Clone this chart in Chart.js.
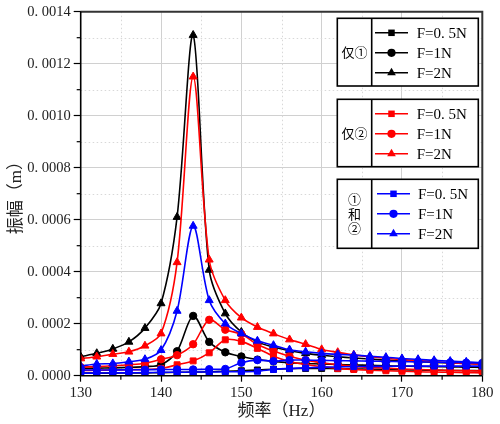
<!DOCTYPE html>
<html><head><meta charset="utf-8">
<script src="https://cdn.jsdelivr.net/npm/chart.js@4.4.1/dist/chart.umd.min.js"></script>
<style>html,body{margin:0;padding:0;background:#fff}#wrap{width:500px;height:424px}</style>
</head><body><div id="wrap"><canvas id="c" width="500" height="424"></canvas></div>
<script>
// Frequencies (Hz)
const freqs = [130,132,134,136,138,140,142,144,146,148,150,152,154,156,158,160,162,164,166,168,170,172,174,176,178,180];
// 仅① (units of 1e-5 m)
const only1_F05 = [1.0,1.0,1.0,1.1,1.1,1.2,1.3,1.4,1.5,1.7,1.9,2.2,2.5,2.7,2.8,2.8,2.7,2.6,2.5,2.4,2.3,2.2,2.1,2.0,2.0,1.9];
const only1_F1  = [2.8,2.9,3.0,3.2,3.5,4.2,9.4,23.0,13.0,9.0,7.4,6.2,5.5,5.0,4.7,4.5,4.3,4.1,4.0,3.8,3.7,3.6,3.5,3.4,3.3,3.2];
const only1_F2  = [7.3,8.6,10.3,13.0,18.3,27.8,61.0,131.0,40.7,23.9,16.8,13.0,11.0,9.6,8.6,7.9,7.3,6.8,6.4,6.0,5.7,5.4,5.1,4.9,4.7,4.5];
// 仅②
const only2_F05 = [2.0,2.1,2.2,2.3,2.4,2.8,4.2,5.7,8.8,13.8,13.2,10.5,7.5,5.5,4.3,3.5,2.8,2.4,2.1,1.9,1.7,1.5,1.4,1.3,1.2,1.1];
const only2_F1  = [3.3,3.5,3.8,4.2,4.8,6.3,7.9,12.1,21.5,17.7,16.0,12.0,9.5,7.5,6.0,5.0,4.2,3.6,3.2,2.9,2.6,2.4,2.2,2.0,1.9,1.8];
const only2_F2  = [6.6,7.3,8.3,9.2,11.5,16.2,43.6,115.0,44.6,29.0,22.3,18.7,16.2,13.9,12.1,10.1,9.0,8.0,7.3,6.7,6.2,5.8,5.4,5.0,4.7,4.4];
// ①和②
const both_F05  = [1.0,1.0,1.1,1.1,1.2,1.3,1.3,1.4,1.4,1.5,1.5,1.7,2.4,2.8,3.0,3.3,3.4,3.5,3.6,3.6,3.7,3.7,3.7,3.7,3.7,3.7];
const both_F1   = [2.2,2.2,2.2,2.3,2.3,2.4,2.4,2.4,2.5,2.6,5.0,6.0,5.6,6.0,6.0,5.9,5.8,5.7,5.6,5.5,5.4,5.3,5.2,5.1,5.0,4.9];
const both_F2   = [3.7,4.5,4.7,5.4,6.3,9.8,24.9,57.6,29.0,20.0,16.2,13.4,11.7,10.0,9.2,8.6,8.2,7.9,7.5,7.1,6.6,6.3,5.9,5.6,5.3,5.0];

const groupLabels = ['仅①','仅②','①和②'];
const forceLabels = ['F=0. 5N','F=1N','F=2N'];
const groupColors = ['#000000','#ff0000','#0000ff'];
const markerStyles = ['rect','circle','triangle'];
const markerRadii = [4.2,3.7,4.6];
const seriesValues = [[only1_F05,only1_F1,only1_F2],[only2_F05,only2_F1,only2_F2],[both_F05,both_F1,both_F2]];
const xTicks = [130,140,150,160,170,180];
const yTicks = [0,0.0002,0.0004,0.0006,0.0008,0.001,0.0012,0.0014];

const FONT = '"Liberation Serif","Noto Sans CJK SC",serif';
const datasets = [];
seriesValues.forEach((grp,g)=>grp.forEach((vals,k)=>{
  datasets.push({
    label: groupLabels[g]+' '+forceLabels[k],
    data: vals.map((v,i)=>({x:freqs[i], y:v*1e-5})),
    borderColor: groupColors[g], backgroundColor: groupColors[g],
    borderWidth: 1.6, pointStyle: markerStyles[k], pointRadius: markerRadii[k],
    pointBorderWidth: 1, tension: 0.3, order: 2-g
  });
}));

function drawMarker(ctx, style, r, x, y){
  ctx.beginPath();
  if(style==='circle'){ctx.arc(x,y,r,0,Math.PI*2);}
  else if(style==='rect'){const s=r*Math.SQRT1_2;ctx.rect(x-s,y-s,2*s,2*s);}
  else {ctx.moveTo(x, y - r); ctx.lineTo(x + r*0.866, y + r*0.5); ctx.lineTo(x - r*0.866, y + r*0.5); ctx.closePath();}
  ctx.fill();
}

const decor = {
  id:'decor',
  beforeDatasetsDraw(chart){
    const {ctx, chartArea:a, scales:{x,y}} = chart;
    ctx.save();
    ctx.strokeStyle='#d8d8d8'; ctx.lineWidth=1; ctx.setLineDash([1.5,2.5]);
    for(let v=135; v<180; v+=10){const px=Math.round(x.getPixelForValue(v))+0.5;ctx.beginPath();ctx.moveTo(px,a.top);ctx.lineTo(px,a.bottom);ctx.stroke();}
    for(let v=0.0001; v<0.0014; v+=0.0002){const py=Math.round(y.getPixelForValue(v))+0.5;ctx.beginPath();ctx.moveTo(a.left,py);ctx.lineTo(a.right,py);ctx.stroke();}
    ctx.setLineDash([]);
    ctx.strokeStyle='#000'; ctx.lineWidth=1.2;
    for(let v=135; v<180; v+=10){const px=x.getPixelForValue(v);ctx.beginPath();ctx.moveTo(px,a.bottom);ctx.lineTo(px,a.bottom+4);ctx.stroke();}
    for(let v=0.0001; v<0.0014; v+=0.0002){const py=y.getPixelForValue(v);ctx.beginPath();ctx.moveTo(a.left,py);ctx.lineTo(a.left-4,py);ctx.stroke();}
    ctx.restore();
  },
  afterDatasetsDraw(chart){
    const {ctx, chartArea:a} = chart;
    ctx.save();
    ctx.strokeStyle='#333'; ctx.lineWidth=2;
    ctx.beginPath(); ctx.moveTo(a.left,a.top); ctx.lineTo(a.right,a.top); ctx.lineTo(a.right,a.bottom); ctx.stroke();
    ctx.strokeStyle='#000'; ctx.lineWidth=1.6;
    ctx.beginPath(); ctx.moveTo(a.left,a.top); ctx.lineTo(a.left,a.bottom); ctx.lineTo(a.right,a.bottom); ctx.stroke();
    // legend boxes
    const boxTops=[18.3,99.3,179.3], boxH=[67.7,67.4,69];
    const bx=337.3, bw=141, dx=371.7;
    for(let g=0; g<3; g++){
      const t=boxTops[g];
      ctx.fillStyle='#fff'; ctx.fillRect(bx,t,bw,boxH[g]);
      ctx.strokeStyle='#000'; ctx.lineWidth=1.6; ctx.strokeRect(bx,t,bw,boxH[g]);
      ctx.beginPath(); ctx.moveTo(dx,t); ctx.lineTo(dx,t+boxH[g]); ctx.stroke();
      ctx.fillStyle='#000'; ctx.textBaseline='middle'; ctx.textAlign='center';
      const cx=(bx+dx)/2, cy=t+boxH[g]/2;
      ctx.font='13px "Noto Sans CJK SC"';
      if(g<2){ ctx.fillText(groupLabels[g], cx, cy); }
      else { const chars=['①','和','②']; chars.forEach((c,i)=>ctx.fillText(c,cx,cy+(i-1)*14.5)); }
      for(let k=0;k<3;k++){
        const ry=t+14.5+k*20;
        const x0 = g===2?377:375, x1 = g===2?410:408;
        ctx.strokeStyle=groupColors[g]; ctx.lineWidth=1.6;
        ctx.beginPath(); ctx.moveTo(x0,ry); ctx.lineTo(x1,ry); ctx.stroke();
        ctx.fillStyle=groupColors[g];
        drawMarker(ctx, markerStyles[k], markerRadii[k]+0.4, (x0+x1)/2, ry);
        ctx.fillStyle='#000'; ctx.textAlign='left'; ctx.font='15px '+FONT;
        ctx.fillText(forceLabels[k], g===2?418:416.7, ry+1);
        ctx.textAlign='center';
      }
    }
    ctx.restore();
  }
};

new Chart(document.getElementById('c'), {
  type:'line',
  data:{datasets},
  options:{
    responsive:false, animation:false, devicePixelRatio:1,
    layout:{padding:{left:0,right:17.7,top:10,bottom:0}},
    plugins:{legend:{display:false}, tooltip:{enabled:false}},
    scales:{
      x:{type:'linear', min:130, max:180,
        afterBuildTicks(s){ s.ticks = xTicks.map(v=>({value:v})); },
        afterFit(s){ s.height = 48.3; },
        ticks:{font:{family:FONT,size:15}, color:'#222', padding:2, maxRotation:0},
        grid:{color:'#d0d0d0', lineWidth:1, tickColor:'#000', tickLength:6, tickWidth:1.2},
        border:{display:false},
        title:{display:true, text:'频率（Hz）', font:{family:FONT,size:17}, color:'#222', padding:{top:0,bottom:2}}
      },
      y:{min:0, max:0.0014,
        afterBuildTicks(s){ s.ticks = yTicks.map(v=>({value:v})); },
        afterFit(s){ s.width = 80.7; },
        ticks:{font:{family:FONT,size:14.5}, color:'#222', padding:3,
          callback:(v)=>'0. '+String(Math.round(v*1e4)).padStart(4,'0')},
        grid:{color:'#d0d0d0', lineWidth:1, tickColor:'#000', tickLength:7, tickWidth:1.2},
        border:{display:false},
        title:{display:true, text:'振幅（m）', font:{family:FONT,size:17}, color:'#222', padding:{top:6,bottom:0}}
      }
    }
  },
  plugins:[decor]
});
</script>
</body></html>
